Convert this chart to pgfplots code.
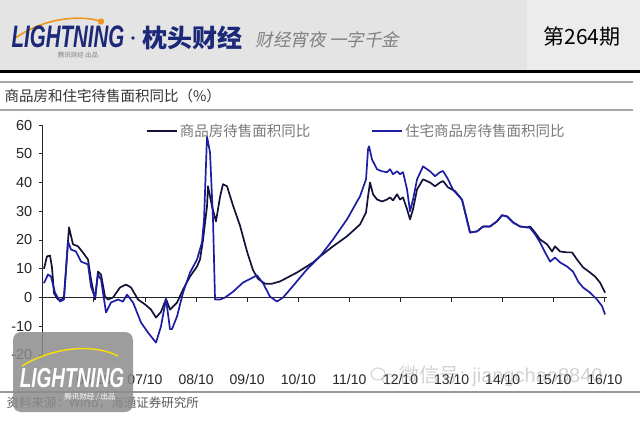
\documentclass[border=0pt]{standalone}
\usepackage{pgfplots}
\pgfplotsset{compat=1.18}
\usepackage{fontspec}
\setmainfont{Liberation Sans}
\newfontfamily\cjk{Noto Sans CJK SC}
\newfontfamily\cjksl{Noto Sans CJK SC}[FakeSlant=0.2]
\definecolor{navyline}{RGB}{18,18,58}
\definecolor{blueline}{RGB}{30,30,165}
\definecolor{hdrgray}{RGB}{228,228,228}
\definecolor{hdrgray2}{RGB}{236,236,236}
\definecolor{logonavy}{RGB}{28,40,120}
\definecolor{logoorange}{RGB}{240,150,30}

\pgfplotstableread{
t v
0.023 10
0.082 14.3
0.141 14.6
0.180 10.4
0.219 1.5
0.297 -0.7
0.376 -0.7
0.415 0.5
0.513 24.4
0.591 18.5
0.689 17.8
0.787 15.6
0.885 13.2
0.943 6.3
1.022 -0.7
1.080 9
1.139 8
1.217 0.3
1.276 -0.7
1.374 0
1.511 3.5
1.628 4.5
1.726 3.5
1.863 -0.7
2.000 -2.4
2.117 -4.2
2.215 -7
2.313 -5
2.411 -0.5
2.489 -4.2
2.626 -1.8
2.744 2.8
2.881 7.3
3.018 10.8
3.076 13.2
3.135 20
3.213 31.7
3.233 38.7
3.311 31.7
3.389 26.5
3.468 35
3.526 39.4
3.605 38.7
3.722 32
3.859 25
3.996 16
4.114 9.5
4.211 6.5
4.348 4.8
4.485 4.8
4.642 5.6
4.975 8.7
5.288 12.2
5.425 14.3
5.679 17.8
5.953 21.3
6.207 25.4
6.325 29.6
6.364 35.2
6.403 40
6.462 35.9
6.540 34.1
6.638 33.4
6.736 34.1
6.795 34.8
6.853 33.8
6.932 35.9
6.990 34.1
7.049 34.8
7.127 30.7
7.186 27.2
7.245 30.7
7.323 37.6
7.440 41.1
7.577 40
7.675 38.7
7.773 40
7.832 40.5
7.930 38.3
8.067 37
8.204 34
8.360 22.6
8.497 23
8.614 24.7
8.751 24.7
8.888 26.5
8.986 28.6
9.084 28.2
9.202 26.1
9.339 24.7
9.476 24.4
9.534 24.7
9.632 22.6
9.730 20.2
9.867 18.5
9.965 16
10.023 17.8
10.121 16
10.258 15.7
10.356 15.7
10.454 13.2
10.571 10.5
10.708 8.7
10.806 7.3
10.904 5.2
11.002 1.7
}\tblall

\pgfplotstableread{
t v
0.023 5
0.102 8
0.160 7.3
0.239 1.7
0.337 -1.4
0.415 -0.7
0.493 19.5
0.552 16.7
0.650 16
0.748 12.5
0.885 11.5
0.943 3.8
1.022 0
1.080 8
1.139 6.3
1.237 -5.2
1.335 -1.7
1.472 -0.7
1.569 -1.4
1.648 1
1.765 -1.7
1.922 -8.7
2.059 -12.2
2.215 -15.7
2.313 -10
2.411 -0.5
2.489 -11
2.528 -11
2.626 -6.6
2.744 1.7
2.881 8.7
3.018 13.2
3.115 19.2
3.155 27
3.213 56
3.272 50.5
3.331 27
3.370 -0.7
3.468 -0.7
3.566 0
3.722 2
3.918 5.2
4.192 7.7
4.309 5
4.446 0.3
4.583 -1.4
4.701 0
4.838 2.8
5.170 9.8
5.425 14.3
5.679 20.2
5.953 27.2
6.207 35.2
6.325 41.1
6.364 51.6
6.384 52.6
6.442 48
6.540 44.6
6.638 43.9
6.736 43.6
6.795 44.6
6.853 42.9
6.932 43.9
6.990 42.9
7.049 43.6
7.127 37.6
7.186 30
7.245 34.1
7.323 41.1
7.440 45.6
7.577 43.9
7.675 42.2
7.773 43.6
7.832 44
7.930 41.1
8.027 37.5
8.204 34
8.360 22.6
8.497 23
8.614 24.7
8.751 24.7
8.888 26.5
8.986 28.6
9.084 28.2
9.202 26.1
9.339 24.7
9.476 24.4
9.534 24.2
9.632 22
9.730 19.2
9.828 15.7
9.926 12.5
10.023 13.9
10.121 12.2
10.258 10.8
10.376 9
10.474 5.6
10.571 3.5
10.708 1.7
10.845 -0.7
10.943 -3
11.002 -5.9
}\tblres

\begin{document}
\begin{tikzpicture}[x=1pt,y=1pt]
\useasboundingbox (0,0) rectangle (640,424);
\fill[white] (0,0) rectangle (640,424);
% header
\fill[hdrgray] (0,354) rectangle (640,424);
\fill[hdrgray2] (527,354) rectangle (640,424);
\draw[line width=2.6pt,black] (0,352.5) -- (640,352.5);
\draw[logoorange,line width=1.6pt] (14,385) .. controls (40,404) and (75,410) .. (100,403);
\fill[logoorange] (101,402.5) circle (3.2);
\node[font=\bfseries\itshape\fontsize{27}{27}\selectfont, text=logonavy, xscale=0.76, yscale=1.15] at (68,387) {LIGHTNING};
\node[font=\cjk\fontsize{6.5}{7}\selectfont, text=gray] at (78,369) {腾讯财经 出品};
\fill[logonavy] (133,386) circle (1.8);
\node[font=\cjk\bfseries\fontsize{25}{26}\selectfont, text=logonavy, anchor=west] at (139,386) {枕头财经};
\node[font=\cjksl\fontsize{17.5}{19}\selectfont, text=gray, anchor=west] at (252,384) {财经宵夜 一字千金};
\node[font=\cjk\fontsize{21}{22}\selectfont, text=black] at (582,387) {第264期};
% title band
\draw[line width=2pt, gray!70] (0,342) -- (633,342);
\draw[line width=2pt, gray!70] (0,314) -- (633,314);
\node[font=\cjk\fontsize{14.5}{16}\selectfont, text=black!80, anchor=west] at (1,328) {商品房和住宅待售面积同比（\%）};
% bottom rule and source
\draw[line width=1.3pt, gray!80] (0,32) -- (640,32);
\node[font=\cjk\fontsize{12.5}{13}\selectfont, text=black!65, anchor=west] at (3,21) {资料来源：Wind，海通证券研究所};

\begin{axis}[
  at={(42.8pt,69pt)}, anchor=south west,
  scale only axis, width=564.2pt, height=230pt,
  xmin=0, xmax=11.04, ymin=-20, ymax=60,
  axis x line=middle, axis y line=left,
  axis line style={-, line width=1.2pt, black!85},
  xtick={0,...,11},
  xticklabels={05/10,06/10,07/10,08/10,09/10,10/10,11/10,12/10,13/10,14/10,15/10,16/10},
  ytick={-20,-10,0,10,20,30,40,50,60},
  yticklabels={-20,-10,0,10,20,30,40,50,60},
  tick align=outside, major tick length=4pt,
  tick style={line width=1pt, black!85},
  xticklabel style={font=\fontsize{14}{14}\selectfont, anchor=center, yshift=-78pt, text=black!85},
  yticklabel style={font=\fontsize{14.5}{15}\selectfont, text=black!85, xshift=-3pt},
  legend columns=2,
  legend style={at={(axis description cs:0.183,0.974)}, anchor=west, draw=none, fill=none,
    font=\cjk\fontsize{14.5}{16}\selectfont, text=gray!95!black, inner sep=0pt,
    /tikz/every even column/.append style={column sep=59pt}},
  legend image code/.code={\draw[#1] (0pt,0pt) -- (30pt,0pt);},
]
\addplot[navyline, line width=1.7pt, line join=round] table[x=t,y=v] {\tblall};
\addlegendentry{商品房待售面积同比}
\addplot[blueline, line width=1.7pt, line join=round] table[x=t,y=v] {\tblres};
\addlegendentry{住宅商品房待售面积同比}
\end{axis}

% wechat watermark
\begin{scope}[opacity=0.35]
\draw[gray, line width=1pt] (378,50) ellipse (7 and 6);
\draw[gray, line width=1pt] (388,45) ellipse (6 and 5);
\node[font=\fontsize{20}{20}\selectfont, text=gray, anchor=west] at (396,48) {{\cjk 微信号}: jiangchao8840};
\end{scope}
% logo watermark box
\fill[black!45, opacity=0.85, rounded corners=8pt] (13,12) rectangle (133,92);
\draw[yellow!80!orange, line width=1.4pt] (22,58) .. controls (55,78) and (95,80) .. (118,68);
\node[font=\bfseries\itshape\fontsize{25}{25}\selectfont, text=white, xscale=0.76, yscale=1.1] at (72,46) {LIGHTNING};
\node[font=\cjk\fontsize{7.5}{8}\selectfont, text=white] at (90,27) {腾讯财经 / 出品};
\end{tikzpicture}
\end{document}
